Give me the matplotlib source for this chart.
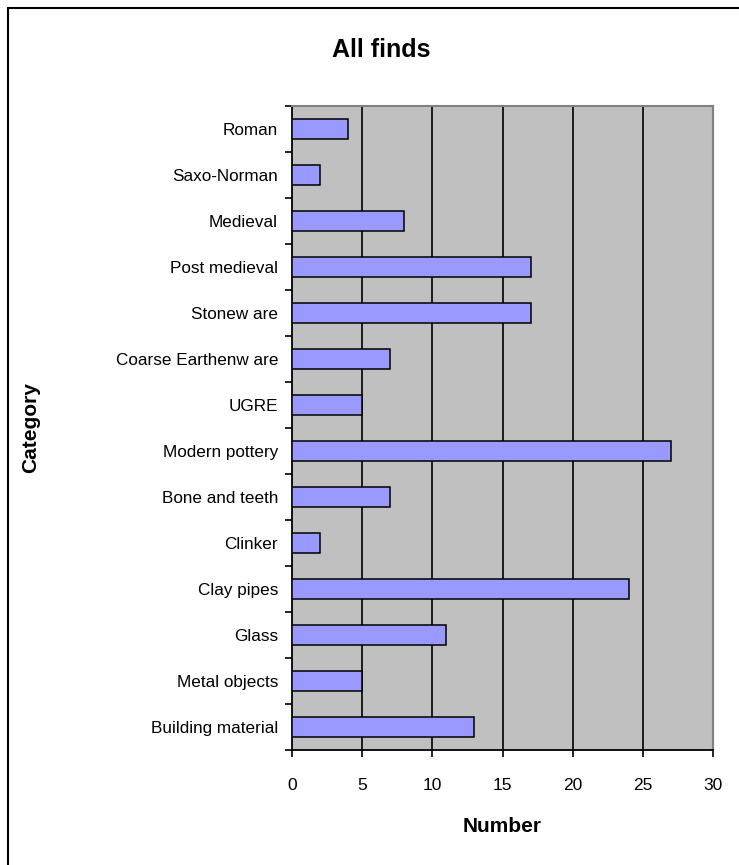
import matplotlib
matplotlib.use("Agg")
import matplotlib.pyplot as plt
from matplotlib.patches import Rectangle

categories = ["Roman", "Saxo-Norman", "Medieval", "Post medieval", "Stonew are",
              "Coarse Earthenw are", "UGRE", "Modern pottery", "Bone and teeth",
              "Clinker", "Clay pipes", "Glass", "Metal objects", "Building material"]
values = [4, 2, 8, 17, 17, 7, 5, 27, 7, 2, 24, 11, 5, 13]
xticks = [0, 5, 10, 15, 20, 25, 30]

plt.rcParams['font.family'] = ['Liberation Sans', 'DejaVu Sans']

W, H = 739, 865
fig = plt.figure(figsize=(W / 100, H / 100), dpi=100)
ax = fig.add_axes([292 / W, 1 - 750 / H, (713 - 292) / W, (750 - 106) / H])
ax.set_facecolor('#C0C0C0')

n = len(categories)
ypos = list(range(n))[::-1]
ax.barh(ypos, values, height=0.42, color='#9999FF', edgecolor='black', linewidth=1.1, zorder=3)

ax.set_xlim(0, 30)
ax.set_ylim(-0.5, n - 0.5)
ax.set_xticks(xticks)
ax.set_xticklabels([str(t) for t in xticks], fontsize=12.5)
ax.set_yticks(ypos)
ax.set_yticklabels(categories, fontsize=12.3)
ax.tick_params(axis='y', length=0, pad=10)
ax.set_yticks([i - 0.5 for i in range(n + 1)], minor=True)
ax.tick_params(axis='y', which='minor', length=5, width=1.2, direction='out')
ax.tick_params(axis='x', length=5, width=1.2, direction='out', pad=15)

for t in xticks[1:-1]:
    ax.axvline(t, color='black', linewidth=1.2, zorder=1)

for s in ['left', 'bottom']:
    ax.spines[s].set_color('black')
    ax.spines[s].set_linewidth(1.3)
for s in ['top', 'right']:
    ax.spines[s].set_color('#808080')
    ax.spines[s].set_linewidth(1.5)

ax.set_xlabel('Number', fontsize=15, fontweight='bold')
ax.xaxis.set_label_coords(0.5, (750 - 827) / (750 - 106))
ax.xaxis.label.set_va('center')
ax.set_ylabel('Category', fontsize=15, fontweight='bold')
ax.yaxis.set_label_coords((31 - 292) / (713 - 292), 0.5)
ax.yaxis.label.set_va('center')

fig.text(381 / W, 1 - 50 / H, 'All finds', fontsize=18, fontweight='bold', ha='center', va='center')

fig.patches.append(Rectangle((8 / W, -0.01), 1.0, 1 - 8 / H + 0.01, transform=fig.transFigure,
                             fill=False, edgecolor='black', linewidth=1.5))

fig.savefig('out.png', dpi=100)
